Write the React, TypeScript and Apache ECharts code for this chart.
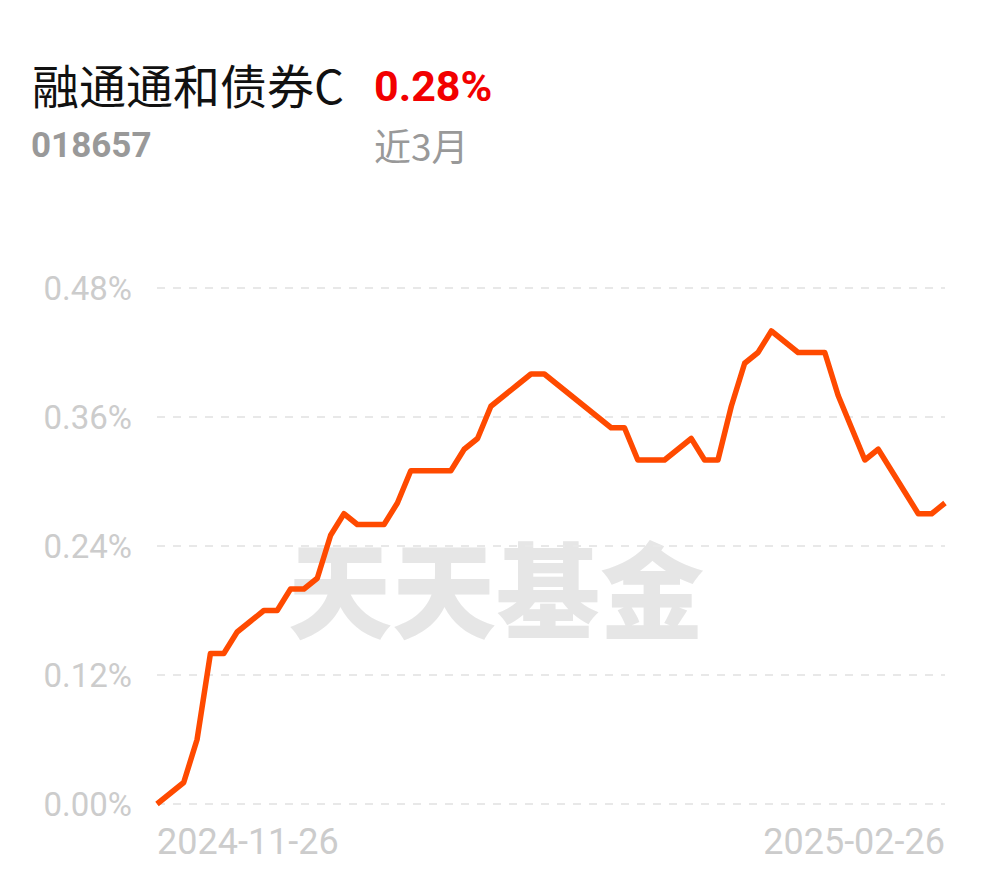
import React, { useEffect, useRef } from "react";
import * as echarts from "echarts";

const fundName = "融通通和债券C";
const fundCode = "018657";
const periodReturn = "0.28%";
const periodLabel = "近3月";
const watermark = "天天基金";

const dates = [
  "2024-11-26", "2024-11-27", "2024-11-28", "2024-11-29",
  "2024-12-02", "2024-12-03", "2024-12-04", "2024-12-05", "2024-12-06",
  "2024-12-09", "2024-12-10", "2024-12-11", "2024-12-12", "2024-12-13",
  "2024-12-16", "2024-12-17", "2024-12-18", "2024-12-19", "2024-12-20",
  "2024-12-23", "2024-12-24", "2024-12-25", "2024-12-26", "2024-12-27",
  "2024-12-30", "2024-12-31",
  "2025-01-02", "2025-01-03",
  "2025-01-06", "2025-01-07", "2025-01-08", "2025-01-09", "2025-01-10",
  "2025-01-13", "2025-01-14", "2025-01-15", "2025-01-16", "2025-01-17",
  "2025-01-20", "2025-01-21", "2025-01-22", "2025-01-23", "2025-01-24",
  "2025-01-27",
  "2025-02-05", "2025-02-06", "2025-02-07",
  "2025-02-10", "2025-02-11", "2025-02-12", "2025-02-13", "2025-02-14",
  "2025-02-17", "2025-02-18", "2025-02-19", "2025-02-20", "2025-02-21",
  "2025-02-24", "2025-02-25", "2025-02-26",
];

const returns = [
  0.0, 0.01, 0.02, 0.06, 0.14, 0.14, 0.16, 0.17, 0.18, 0.18,
  0.2, 0.2, 0.21, 0.25, 0.27, 0.26, 0.26, 0.26, 0.28, 0.31,
  0.31, 0.31, 0.31, 0.33, 0.34, 0.37, 0.38, 0.39, 0.4, 0.4,
  0.39, 0.38, 0.37, 0.36, 0.35, 0.35, 0.32, 0.32, 0.32, 0.33,
  0.34, 0.32, 0.32, 0.37, 0.41, 0.42, 0.44, 0.43, 0.42, 0.42,
  0.42, 0.38, 0.35, 0.32, 0.33, 0.31, 0.29, 0.27, 0.27, 0.28,
];

const yTicks = [0, 0.12, 0.24, 0.36, 0.48];

export default function App() {
  const ref = useRef<HTMLDivElement>(null);
  useEffect(() => {
    if (!ref.current) return;
    const chart = echarts.init(ref.current, null, { renderer: "svg" });
    const last = dates.length - 1;
    chart.setOption({
      animation: false,
      backgroundColor: "#ffffff",
      grid: { left: 157, right: 45, top: 288, bottom: 74 },
      xAxis: {
        type: "category",
        data: dates,
        boundaryGap: false,
        axisLine: { show: false },
        axisTick: { show: false },
        splitLine: { show: false },
        axisLabel: {
          interval: (i: number) => i === 0 || i === last,
          showMinLabel: true,
          showMaxLabel: true,
          alignMinLabel: "left",
          alignMaxLabel: "right",
          color: "#cccccc",
          fontSize: 36,
          fontFamily: "Roboto",
          margin: 20,
        },
      },
      yAxis: {
        type: "value",
        min: yTicks[0],
        max: yTicks[yTicks.length - 1],
        interval: 0.12,
        axisLine: { show: false },
        axisTick: { show: false },
        axisLabel: {
          color: "#cccccc",
          fontSize: 33,
          fontFamily: "Roboto",
          margin: 25,
          formatter: (v: number) => v.toFixed(2) + "%",
        },
        splitLine: {
          show: true,
          lineStyle: { color: "#e8e8e8", type: [8, 8], width: 2 },
        },
      },
      graphic: [
        {
          type: "text",
          x: 496,
          y: 585,
          z: -1,
          style: {
            text: watermark,
            fontSize: 104,
            fontWeight: 900,
            fontFamily: "Noto Sans CJK SC",
            fill: "#e6e6e6",
            align: "center",
            verticalAlign: "middle",
          },
        },
        {
          type: "text",
          x: 32,
          y: 83,
          style: {
            text: fundName,
            fontSize: 47,
            fontFamily: "Noto Sans CJK SC",
            fill: "#111111",
            verticalAlign: "middle",
          },
        },
        {
          type: "text",
          x: 374,
          y: 86,
          style: {
            text: periodReturn,
            fontSize: 43,
            fontWeight: "bold",
            fontFamily: "Roboto",
            fill: "#f20000",
            verticalAlign: "middle",
          },
        },
        {
          type: "text",
          x: 31,
          y: 145,
          style: {
            text: fundCode,
            fontSize: 35,
            fontWeight: "bold",
            fontFamily: "Roboto",
            fill: "#999999",
            verticalAlign: "middle",
          },
        },
        {
          type: "text",
          x: 374,
          y: 145,
          style: {
            text: periodLabel,
            fontSize: 37,
            fontFamily: "Noto Sans CJK SC",
            fill: "#999999",
            verticalAlign: "middle",
          },
        },
      ],
      series: [
        {
          type: "line",
          data: returns,
          symbol: "none",
          z: 3,
          lineStyle: { color: "#ff4a00", width: 5.5, join: "round" },
        },
      ],
    });
    return () => chart.dispose();
  }, []);
  return (
    <div
      ref={ref}
      style={{ position: "absolute", left: 0, top: 0, width: 990, height: 878 }}
    />
  );
}
